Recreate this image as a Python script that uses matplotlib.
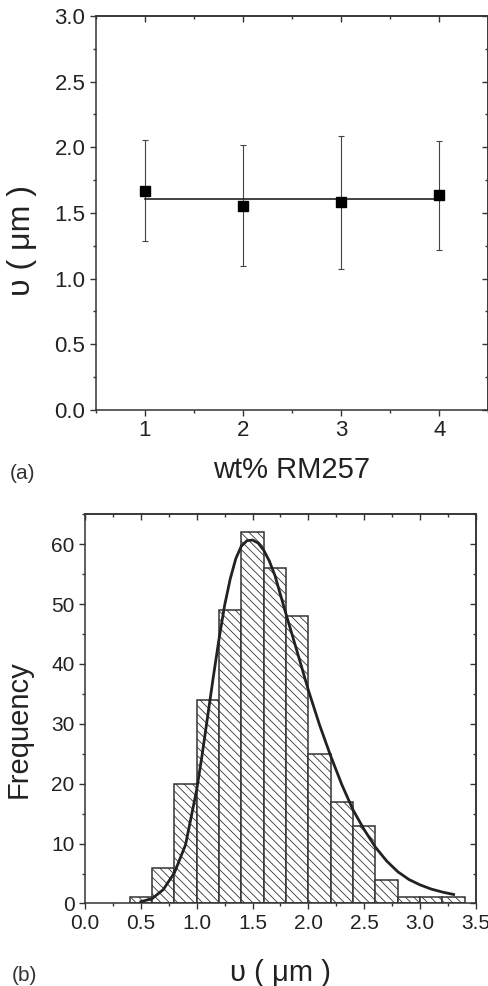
import matplotlib
matplotlib.use("Agg")
import matplotlib.pyplot as plt
from matplotlib.ticker import MultipleLocator

plt.rcParams["font.family"] = ["Liberation Sans", "DejaVu Sans"]
plt.rcParams["hatch.linewidth"] = 0.6
plt.rcParams["hatch.color"] = "#222222"

# (a) size vs RM257 concentration
wt = [1, 2, 3, 4]
size_mean = [1.67, 1.555, 1.58, 1.635]
size_err = [0.385, 0.46, 0.505, 0.415]
fit_x = [1, 4]
fit_y = [1.607, 1.607]

# (b) size histogram, bins of 0.2 um
bin_left = [0.4, 0.6, 0.8, 1.0, 1.2, 1.4, 1.6, 1.8, 2.0, 2.2, 2.4, 2.6, 2.8, 3.0, 3.2]
counts = [1, 6, 20, 34, 49, 62, 56, 48, 25, 17, 13, 4, 1, 1, 1]
bin_width = 0.2

# fitted distribution curve
curve_x = [0.50, 0.60, 0.70, 0.80, 0.90, 1.00, 1.05, 1.10, 1.15, 1.20, 1.25, 1.30,
           1.35, 1.40, 1.45, 1.50, 1.55, 1.60, 1.65, 1.70, 1.80, 1.90, 2.00, 2.10,
           2.20, 2.30, 2.40, 2.50, 2.60, 2.70, 2.80, 2.90, 3.00, 3.10, 3.20, 3.30]
curve_y = [0.3, 0.8, 2.3, 5.1, 9.8, 19.0, 25.0, 31.5, 38.0, 44.2, 49.8, 54.2,
           57.6, 59.7, 60.6, 60.7, 60.2, 59.0, 57.2, 54.8, 48.3, 42.0, 35.6, 29.8,
           24.6, 19.8, 15.6, 12.3, 9.4, 7.1, 5.3, 4.0, 3.1, 2.4, 1.9, 1.5]

dark = "#222222"
spine_c = "#333333"


def style_axes(ax, xmaj, xmin, ymaj, ymin, fs):
    for s in ax.spines.values():
        s.set_color(spine_c)
        s.set_linewidth(1.1)
    ax.xaxis.set_major_locator(MultipleLocator(xmaj))
    ax.xaxis.set_minor_locator(MultipleLocator(xmin))
    ax.yaxis.set_major_locator(MultipleLocator(ymaj))
    ax.yaxis.set_minor_locator(MultipleLocator(ymin))
    ax.tick_params(which="both", direction="out", color=spine_c, labelcolor=dark,
                   labelsize=fs, width=1.0)
    ax.tick_params(which="major", length=4)
    ax.tick_params(which="minor", length=2.5)
    # mirrored ticks pointing inward on top and right
    top = ax.secondary_xaxis("top")
    top.xaxis.set_major_locator(MultipleLocator(xmaj))
    top.xaxis.set_minor_locator(MultipleLocator(xmin))
    top.tick_params(which="both", direction="in", labeltop=False, color=spine_c, width=1.0)
    top.tick_params(which="major", length=4)
    top.tick_params(which="minor", length=2.5)
    top.spines["top"].set_color(spine_c)
    top.spines["top"].set_linewidth(1.1)
    right = ax.secondary_yaxis("right")
    right.yaxis.set_major_locator(MultipleLocator(ymaj))
    right.yaxis.set_minor_locator(MultipleLocator(ymin))
    right.tick_params(which="both", direction="in", labelright=False, color=spine_c, width=1.0)
    right.tick_params(which="major", length=4)
    right.tick_params(which="minor", length=2.5)
    right.spines["right"].set_color(spine_c)
    right.spines["right"].set_linewidth(1.1)


fig = plt.figure(figsize=(4.89, 9.86), dpi=100)

# ---- panel (a)
ax1 = fig.add_axes([0.1957, 0.5842, 0.8028, 0.3996])
ax1.errorbar(wt, size_mean, yerr=size_err, fmt="none", ecolor="#444444",
             elinewidth=0.8, capsize=2.5, capthick=0.8, zorder=2)
ax1.plot(fit_x, fit_y, color=dark, lw=1.2, zorder=3)
ax1.plot(wt, size_mean, "s", color="black", markersize=7.5, zorder=4)
ax1.set_xlim(0.5, 4.5)
ax1.set_ylim(0, 3.0)
style_axes(ax1, 1, 0.5, 0.5, 0.25, 16)
ax1.set_xlabel("wt% RM257", fontsize=21, color=dark, va="center")
ax1.xaxis.set_label_coords(0.5, -0.153)
ax1.set_ylabel("υ ( μm )", fontsize=23, color=dark)
ax1.yaxis.set_label_coords(-0.150, 0.43)
fig.text(0.02, 0.52, "(a)", fontsize=15, color="#333333", va="center")

# ---- panel (b)
ax2 = fig.add_axes([0.1738, 0.0837, 0.7996, 0.3947])
ax2.bar(bin_left, counts, width=bin_width, align="edge", color="white",
        edgecolor=spine_c, linewidth=1.1, hatch="\\\\\\\\", zorder=2)
ax2.plot(curve_x, curve_y, color=dark, lw=2.0, zorder=3)
ax2.set_xlim(0, 3.5)
ax2.set_ylim(0, 65)
style_axes(ax2, 0.5, 0.25, 10, 5, 15)
ax2.set_xlabel("υ ( μm )", fontsize=21, color=dark, va="center")
ax2.xaxis.set_label_coords(0.5, -0.178)
ax2.set_ylabel("Frequency", fontsize=21, color=dark)
ax2.yaxis.set_label_coords(-0.133, 0.448)
fig.text(0.024, 0.011, "(b)", fontsize=15, color="#333333", va="center")

fig.savefig("out.png", dpi=100)
